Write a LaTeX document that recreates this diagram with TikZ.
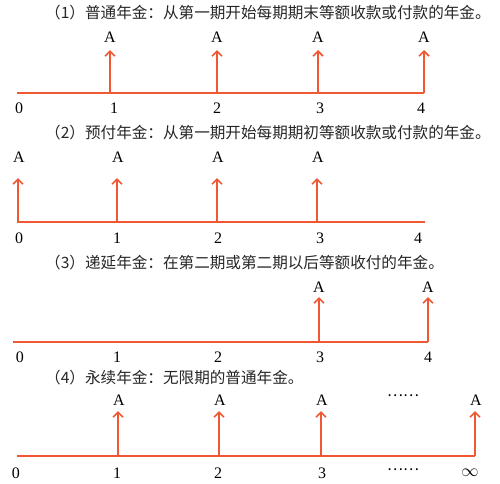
\documentclass[tikz,border=0pt]{standalone}
\usepackage{fontspec}
\setmainfont{Liberation Serif}
\newfontfamily\cjk{Noto Sans CJK SC}
\usepackage{xcolor}
\usetikzlibrary{arrows.meta,positioning}
\definecolor{annuity}{RGB}{240,88,52}

\begin{document}
\begin{tikzpicture}[x=1pt,y=-1pt,
    axis/.style={draw=annuity,line width=1.6pt},
    cash/.style={axis,-{Straight Barb[length=5pt,width=10pt,line width=1.6pt]}},
    heading/.style={anchor=west,inner sep=0pt,text=black!85,font=\cjk\fontsize{15.6}{16}\selectfont},
    lbl/.style={inner sep=0pt,font=\fontsize{16}{16}\selectfont},
    more/.style={inner sep=0pt,font=\cjk\fontsize{15}{15}\selectfont}]
  \useasboundingbox (0,0) rectangle (500,483);

  % (1) ordinary annuity
  \node[heading] (t1) at (45,13) {（1）普通年金：从第一期开始每期期末等额收款或付款的年金。};
  \coordinate (b1) at (17,93);
  \coordinate (e1) at (424,93);
  \draw[axis] (b1) -- (e1);
  \foreach \n/\x in {1/110,2/217,3/318,4/424} {
    \coordinate (p1\n) at (\x,93);
    \coordinate (q1\n) at (\x,50);
    \draw[cash] (p1\n) -- (q1\n);
    \node[lbl] (a1\n) at (\x,37) {A};
  }
  \foreach \n/\x in {0/19,1/114,2/217,3/320,4/421}
    \node[lbl] (n1\n) at (\x,108) {\n};

  % (2) annuity due
  \node[heading] (t2) at (45,133) {（2）预付年金：从第一期开始每期期初等额收款或付款的年金。};
  \coordinate (b2) at (17,222);
  \coordinate (e2) at (425,222);
  \draw[axis] (b2) -- (e2);
  \foreach \n/\x in {0/18,1/117,2/217,3/317} {
    \coordinate (p2\n) at (\x,222);
    \coordinate (q2\n) at (\x,178);
    \draw[cash] (p2\n) -- (q2\n);
    \node[lbl] (a2\n) at (\x+1,157) {A};
  }
  \foreach \n/\x in {0/19,1/117,2/218,3/320,4/418}
    \node[lbl] (n2\n) at (\x,238) {\n};

  % (3) deferred annuity
  \node[heading] (t3) at (45,263) {（3）递延年金：在第二期或第二期以后等额收付的年金。};
  \coordinate (b3) at (13,342);
  \coordinate (e3) at (428,342);
  \draw[axis] (b3) -- (e3);
  \foreach \n/\x in {3/319,4/428} {
    \coordinate (p3\n) at (\x,342);
    \coordinate (q3\n) at (\x,297);
    \draw[cash] (p3\n) -- (q3\n);
    \node[lbl] (a3\n) at (\x,287) {A};
  }
  \foreach \n/\x in {0/20,1/117,2/218,3/320,4/428}
    \node[lbl] (n3\n) at (\x,357) {\n};

  % (4) perpetuity
  \node[heading] (t4) at (45,378) {（4）永续年金：无限期的普通年金。};
  \coordinate (b4) at (17,456);
  \coordinate (e4) at (475,456);
  \draw[axis] (b4) -- (e4);
  \foreach \n/\x in {1/118,2/219,3/321,5/475} {
    \coordinate (p4\n) at (\x,456);
    \coordinate (q4\n) at (\x,411);
    \draw[cash] (p4\n) -- (q4\n);
    \node[lbl] (a4\n) at (\x+1,400) {A};
  }
  \node[more] (d4) at (403,396) {……};
  \foreach \n/\x in {0/16,1/117,2/218,3/322}
    \node[lbl] (n4\n) at (\x,473) {\n};
  \node[more] (dn4) at (403,470) {……};
  \node[lbl] (inf4) at (470,473) {$\infty$};
\end{tikzpicture}
\end{document}
